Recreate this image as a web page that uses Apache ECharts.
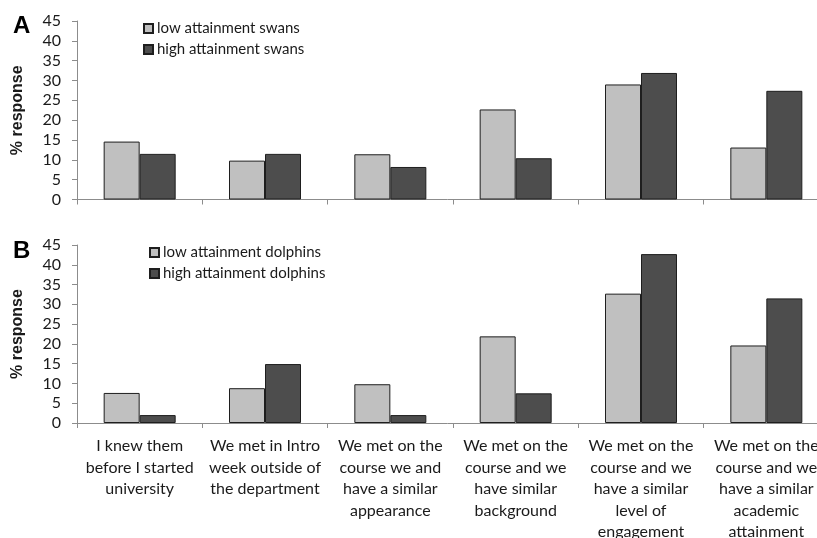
<!DOCTYPE html>
<html>
<head>
<meta charset="utf-8">
<script src="https://cdn.jsdelivr.net/npm/echarts@6/dist/echarts.min.js"></script>
<style>
  html, body { margin: 0; padding: 0; background: #fff; }
  #chart { width: 817px; height: 538px; }
</style>
</head>
<body>
<div id="chart"></div>
<script>
// How the friendship started, by attainment group
const categories = [
  'I knew them\nbefore I started\nuniversity',
  'We met in Intro\nweek outside of\nthe department',
  'We met on the\ncourse we and\nhave a similar\nappearance',
  'We met on the\ncourse and we\nhave similar\nbackground',
  'We met on the\ncourse and we\nhave a similar\nlevel of\nengagement',
  'We met on the\ncourse and we\nhave a similar\nacademic\nattainment'
];

const yTicks = [0, 45, 5]; // min, max, step

// Panel A: swans
const lowSwans  = [14.6, 9.8, 11.4, 22.7, 29.0, 13.1];
const highSwans = [11.5, 11.5, 8.2, 10.4, 31.9, 27.4];

// Panel B: dolphins
const lowDolphins  = [7.6, 8.8, 9.8, 21.9, 32.7, 19.6];
const highDolphins = [2.0, 14.9, 2.0, 7.5, 42.7, 31.5];

const LIGHT = '#c0c0c0';
const DARK = '#4d4d4d';
const EDGE = '#1e1e1e';
const AXIS = '#8c8c8c';
const TEXT = '#1a1a1a';
const BODY_FONT = 'Lato';

const chart = echarts.init(document.getElementById('chart'), null, { renderer: 'canvas' });

function xAxisFor(gridIndex, showLabels) {
  return {
    type: 'category',
    gridIndex: gridIndex,
    data: categories,
    boundaryGap: true,
    axisLine: { show: true, lineStyle: { color: AXIS, width: 1 } },
    axisTick: { show: true, length: 5, alignWithLabel: false, interval: 0, lineStyle: { color: AXIS } },
    axisLabel: {
      show: showLabels,
      interval: 0,
      hideOverlap: false,
      margin: 12,
      color: TEXT,
      fontFamily: BODY_FONT,
      fontSize: 16,
      lineHeight: 21.6,
      align: 'center'
    }
  };
}

function yAxisFor(gridIndex) {
  return {
    type: 'value',
    gridIndex: gridIndex,
    min: yTicks[0],
    max: yTicks[1],
    interval: yTicks[2],
    name: '% response',
    nameLocation: 'middle',
    nameGap: 51,
    nameRotate: 90,
    nameTextStyle: { fontFamily: 'Liberation Sans', fontWeight: 'bold', fontSize: 16, color: TEXT },
    axisLine: { show: true, lineStyle: { color: AXIS, width: 1 } },
    axisTick: { show: true, length: 5, inside: false, lineStyle: { color: AXIS } },
    splitLine: { show: false },
    axisLabel: { margin: 16, color: TEXT, fontFamily: BODY_FONT, fontSize: 16 }
  };
}

function barSeries(name, data, color, axisIndex) {
  return {
    name: name,
    type: 'bar',
    xAxisIndex: axisIndex,
    yAxisIndex: axisIndex,
    data: data,
    barWidth: 36,
    barGap: '0%',
    itemStyle: { color: color, borderColor: EDGE, borderWidth: 1 },
    emphasis: { disabled: true },
    animation: false
  };
}

function legendFor(names, left, top) {
  return {
    orient: 'vertical',
    left: left,
    top: top,
    data: names,
    icon: 'rect',
    itemWidth: 9,
    itemHeight: 9,
    itemGap: 6,
    selectedMode: false,
    textStyle: { fontFamily: BODY_FONT, fontSize: 15, color: TEXT, padding: [0, 0, 0, -1] }
  };
}

chart.setOption({
  backgroundColor: '#ffffff',
  animation: false,
  grid: [
    { left: 77, top: 21, width: 752, height: 178.5, containLabel: false, outerBoundsMode: 'none' },
    { left: 77, top: 245, width: 752, height: 178, containLabel: false, outerBoundsMode: 'none' }
  ],
  xAxis: [xAxisFor(0, false), xAxisFor(1, true)],
  yAxis: [yAxisFor(0), yAxisFor(1)],
  legend: [
    legendFor(['low attainment swans', 'high attainment swans'], 138, 16),
    legendFor(['low attainment dolphins', 'high attainment dolphins'], 144, 240)
  ],
  graphic: [
    { type: 'text', left: 13, top: 14, style: { text: 'A', fontFamily: 'Liberation Sans', fontWeight: 'bold', fontSize: 24, fill: '#000' } },
    { type: 'text', left: 13, top: 239, style: { text: 'B', fontFamily: 'Liberation Sans', fontWeight: 'bold', fontSize: 24, fill: '#000' } }
  ],
  series: [
    barSeries('low attainment swans', lowSwans, LIGHT, 0),
    barSeries('high attainment swans', highSwans, DARK, 0),
    barSeries('low attainment dolphins', lowDolphins, LIGHT, 1),
    barSeries('high attainment dolphins', highDolphins, DARK, 1)
  ]
});
</script>
</body>
</html>
